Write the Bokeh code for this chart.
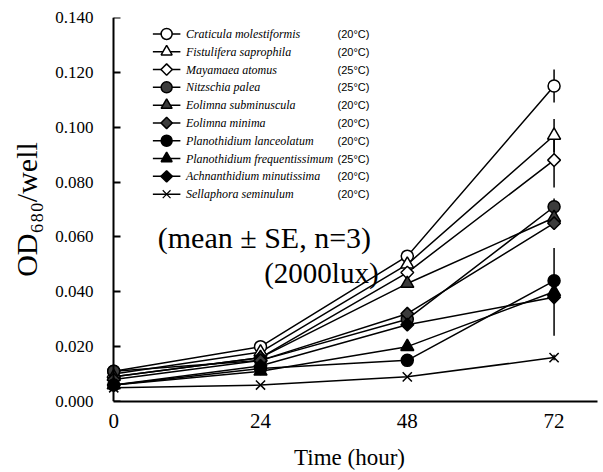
import numpy as np
from bokeh.plotting import figure
from bokeh.models import Range1d, FixedTicker, PrintfTickFormatter, LinearAxis
from bokeh.core.properties import value
from bokeh.embed import file_html
from bokeh.resources import INLINE

hours = [0, 24, 48, 72]
species = ["Craticula molestiformis", "Fistulifera saprophila", "Mayamaea atomus",
           "Nitzschia palea", "Eolimna subminuscula", "Eolimna minima",
           "Planothidium lanceolatum", "Planothidium frequentissimum",
           "Achnanthidium minutissima", "Sellaphora seminulum"]
temps = ["(20°C)", "(20°C)", "(25°C)", "(25°C)", "(20°C)", "(20°C)",
         "(20°C)", "(25°C)", "(20°C)", "(20°C)"]

craticula = [0.011, 0.020, 0.053, 0.115]
fistulifera = [0.010, 0.018, 0.050, 0.097]
mayamaea = [0.009, 0.016, 0.047, 0.088]
nitzschia = [0.011, 0.015, 0.030, 0.071]
eolimna_sub = [0.009, 0.016, 0.043, 0.067]
eolimna_min = [0.008, 0.015, 0.032, 0.065]
plano_lanc = [0.006, 0.012, 0.015, 0.044]
plano_freq = [0.006, 0.011, 0.020, 0.040]
achnanth = [0.006, 0.013, 0.028, 0.038]
sellaphora = [0.005, 0.006, 0.009, 0.016]
series = [craticula, fistulifera, mayamaea, nitzschia, eolimna_sub, eolimna_min,
          plano_lanc, plano_freq, achnanth, sellaphora]
se_72 = [0.006, 0.006, 0.010, 0.003, 0.002, 0.002, 0.002, 0.016, 0.002, 0.001]

y_ticks = [0.0, 0.02, 0.04, 0.06, 0.08, 0.10, 0.12, 0.14]

markers = ["circle", "triangle", "square", "circle", "triangle", "square",
           "circle", "triangle", "square", "x"]
fills = ["white", "white", "white", "#3c3c3c", "#3c3c3c", "#3c3c3c",
         "black", "black", "black", "black"]

SERIF = "Liberation Serif"

p = figure(frame_width=496, frame_height=384, output_backend="svg", toolbar_location=None,
           x_range=Range1d(-2, 79.1), y_range=Range1d(0, 0.14),
           min_border_left=101, min_border_top=17, min_border_right=4, min_border_bottom=60,
           background_fill_color="white", border_fill_color="white")
p.outline_line_color = None
p.grid.visible = False

# axis line + inward ticks drawn at x = 0
ya = p.yaxis[0]
ya.fixed_location = 0
ya.ticker = FixedTicker(ticks=y_ticks)
ya.major_tick_in = 7
ya.major_tick_out = 0
ya.minor_tick_line_color = None
ya.axis_line_width = 2
ya.major_tick_line_width = 2
ya.major_label_text_color = None

# tick labels + title on the left panel
yl = LinearAxis(ticker=FixedTicker(ticks=y_ticks), formatter=PrintfTickFormatter(format="%.3f"))
yl.axis_line_color = None
yl.major_tick_line_color = None
yl.minor_tick_line_color = None
yl.major_tick_in = 0
yl.major_tick_out = 0
yl.major_label_standoff = 8
yl.major_label_text_font = SERIF
yl.major_label_text_font_size = "17px"
yl.major_label_text_color = "black"
yl.axis_label = "OD₆₈₀/well"
yl.axis_label_text_font = SERIF
yl.axis_label_text_font_size = "30px"
yl.axis_label_text_font_style = "normal"
yl.axis_label_text_color = "black"
yl.axis_label_standoff = 9
p.add_layout(yl, "left")

p.xaxis.ticker = FixedTicker(ticks=hours)
p.xaxis.bounds = (0, 79.1)
p.xaxis.major_tick_in = 0
p.xaxis.major_tick_out = 0
p.xaxis.minor_tick_line_color = None
p.xaxis.axis_line_width = 2
p.xaxis.major_label_standoff = 12
p.xaxis.major_label_text_font = SERIF
p.xaxis.major_label_text_font_size = "21px"
p.xaxis.major_label_text_color = "black"
p.xaxis.axis_label = "Time (hour)"
p.xaxis.axis_label_text_font = SERIF
p.xaxis.axis_label_text_font_size = "23px"
p.xaxis.axis_label_text_font_style = "normal"
p.xaxis.axis_label_text_color = "black"
p.xaxis.axis_label_standoff = 14

# data lines, error bars, markers
for vals, err in zip(series, se_72):
    p.line(hours, vals, line_color="black", line_width=1.5)
    p.segment(x0=[hours[-1]], y0=[vals[-1] - err], x1=[hours[-1]], y1=[vals[-1] + err],
              line_color="black", line_width=1.5)
for vals, m, f in zip(series, markers, fills):
    if m == "x":
        p.scatter(hours, vals, marker="x", size=13, line_color="black", line_width=1.5)
    else:
        ang = np.pi / 4 if m == "square" else 0
        sz = 9 if m == "square" else (13 if m == "triangle" else 12)
        p.scatter(hours, vals, marker=m, size=sz, angle=ang, fill_color=f,
                  line_color="black", line_width=1.5)

# legend (drawn manually)
leg_y = 0.1340 - 0.00649 * np.arange(len(species))
for i, (m, f) in enumerate(zip(markers, fills)):
    y = leg_y[i]
    p.segment(x0=[6.4], y0=[y], x1=[10.9], y1=[y], line_color="black", line_width=1.5)
    if m == "x":
        p.scatter([8.65], [y], marker="x", size=11, line_color="black", line_width=1.2)
    else:
        ang = np.pi / 4 if m == "square" else 0
        sz = 8 if m == "square" else 11
        p.scatter([8.65], [y], marker=m, size=sz, angle=ang, fill_color=f,
                  line_color="black", line_width=1.5)
p.text(x=[11.8] * len(species), y=list(leg_y), text=species, text_font=value(SERIF),
       text_font_style="italic", text_font_size="12px", text_baseline="middle",
       text_color="black")
p.text(x=[36.6] * len(species), y=list(leg_y), text=temps,
       text_font=value("Liberation Sans"), text_font_size="11px",
       text_baseline="middle", text_color="black")

# annotations
p.text(x=[7.2], y=[0.0598], text=["(mean ± SE, n=3)"], text_font=value(SERIF),
       text_font_size="30px", text_baseline="middle", text_color="black")
p.text(x=[24.6], y=[0.0470], text=["(2000lux)"], text_font=value(SERIF),
       text_font_size="29px", text_baseline="middle", text_color="black")

open("out.html", "w").write(file_html(p, INLINE))
